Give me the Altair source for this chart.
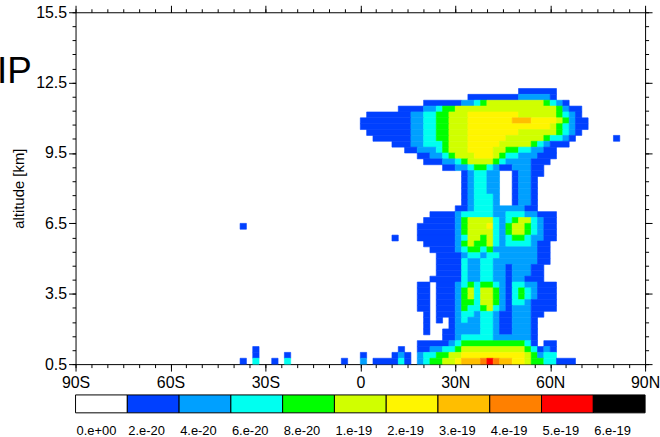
import altair as alt
import pandas as pd

# ---------------- colour levels (colour bar) ----------------
LEVEL_LABELS = ["0.e+00", "2.e-20", "4.e-20", "6.e-20", "8.e-20", "1.e-19",
                "2.e-19", "3.e-19", "4.e-19", "5.e-19", "6.e-19"]
LEVEL_COLORS = ["#FFFFFF", "#0040FF", "#00A0FF", "#00FFF0", "#00FF00", "#D0FF00",
                "#FFF500", "#FFBE00", "#FF8000", "#FF0000", "#000000"]

# ---------------- field grid ----------------
# column k covers latitude [LAT_START + k*LAT_STEP, LAT_START + (k+1)*LAT_STEP]
LAT_START = -40.0
LAT_STEP = 2.0
ALT_STEP = 0.25
# bottom altitude of each row (km)
ROW_ALTS = [12.0, 11.75, 11.5, 11.25, 11.0, 10.75, 10.5, 10.25, 10.0, 9.75,
            9.5, 9.25, 9.0, 8.75, 8.5, 8.25, 8.0, 7.75, 7.5, 7.25,
            7.0, 6.75, 6.5, 6.25, 6.0, 5.75, 5.5, 5.25, 5.0, 4.75,
            4.5, 4.25, 4.0, 3.75, 3.5, 3.25, 3.0, 2.75, 2.5, 2.25,
            2.0, 1.75, 1.5, 1.25, 1.0, 0.75, 0.5]
# "k:level" = from column k on, the level index (0 = blank)
ROW_RUNS = [
    "45:1 51:0",
    "37:1 45:2 50:1 51:0",
    "30:1 36:2 38:3 39:4 40:5 49:4 50:3 51:2 52:1 53:0",
    "26:1 30:2 32:3 33:4 35:5 51:4 52:2 53:1 55:0",
    "21:1 28:2 30:3 32:4 34:5 37:6 45:5 51:4 52:3 53:2 54:1 55:0",
    "20:1 28:2 30:3 32:4 34:5 37:6 44:7 47:6 51:5 52:4 53:2 54:1 56:0",
    "20:1 28:2 30:3 32:4 34:5 37:6 50:5 51:4 52:3 53:2 54:1 56:0",
    "21:1 28:2 30:3 32:4 34:5 37:6 45:5 51:4 52:3 53:2 54:1 55:0",
    "22:1 28:2 30:3 32:4 34:5 37:6 43:5 49:4 50:3 52:2 53:1 54:0 60:1 61:0",
    "25:1 28:2 30:3 33:4 34:5 37:6 42:5 47:4 48:3 49:2 50:1 53:0",
    "27:1 29:2 32:3 33:4 34:5 37:6 41:5 43:4 45:3 47:2 49:1 51:0",
    "29:1 31:2 33:3 34:4 35:5 38:6 41:5 42:4 43:3 45:2 48:1 51:0",
    "30:1 33:2 35:3 36:4 37:5 41:4 42:3 43:2 47:1 50:0",
    "33:1 35:2 37:3 38:4 40:3 41:2 42:1 44:2 47:1 49:0",
    "36:1 37:2 38:3 40:2 42:0 44:1 45:2 47:1 49:0",
    "36:1 37:2 38:3 40:2 42:0 44:1 45:2 47:1 48:0",
    "36:1 37:2 38:3 40:2 42:0 44:1 45:2 47:1 48:0",
    "36:1 37:2 38:3 40:2 42:0 44:1 45:2 47:1 48:0",
    "36:1 37:2 38:3 41:2 42:0 44:1 45:2 47:1 48:0",
    "36:1 37:2 38:3 41:2 42:0 44:1 45:2 47:1 48:0",
    "35:1 37:2 38:3 41:2 46:1 48:0",
    "31:1 35:2 36:3 41:2 43:3 46:2 48:1 51:0",
    "30:1 35:2 36:4 37:5 41:3 42:2 43:3 44:4 45:5 47:3 48:2 49:1 51:0",
    "1:1 2:0 29:1 35:2 36:4 37:5 40:6 41:3 42:2 43:4 44:5 46:4 47:3 48:2 49:1 51:0",
    "29:1 35:2 36:4 37:5 41:3 42:2 43:4 44:5 46:4 47:3 48:2 49:1 51:0",
    "25:1 26:0 29:1 35:2 36:3 37:5 39:4 40:5 41:3 42:2 43:3 44:4 46:3 47:2 49:1 51:0",
    "30:1 35:2 36:4 37:5 38:4 40:5 41:3 42:2 43:3 47:2 48:1 50:0",
    "31:1 35:2 36:3 37:4 39:3 40:4 41:2 48:1 50:0",
    "32:1 36:2 37:3 39:2 40:3 42:2 48:1 50:0",
    "32:1 36:3 37:2 39:3 41:2 48:1 50:0",
    "32:1 36:3 37:2 39:3 41:2 43:1 44:2 47:1 49:0",
    "32:1 36:3 37:2 39:3 41:2 43:1 44:2 47:1 49:0",
    "31:1 36:3 37:2 39:3 41:2 43:1 44:2 46:1 49:0",
    "29:1 31:0 32:1 35:2 36:3 37:4 38:3 39:4 41:3 42:2 43:1 44:3 46:2 48:1 51:0",
    "29:1 31:0 32:1 35:2 36:4 37:5 38:3 39:5 41:4 42:2 43:1 44:3 45:4 46:3 47:2 48:1 51:0",
    "29:1 31:0 32:1 35:2 36:4 37:5 38:3 39:5 41:4 42:2 43:1 44:3 45:4 46:3 47:2 48:1 51:0",
    "29:1 31:0 32:1 35:2 36:4 38:3 39:5 41:4 42:2 43:1 44:3 46:2 47:1 51:0",
    "29:1 31:0 32:1 35:2 36:4 37:3 39:4 40:5 41:3 42:2 43:1 44:2 47:1 51:0",
    "30:1 31:0 32:1 35:2 36:3 38:2 39:3 41:2 42:1 44:2 47:1 49:0",
    "30:1 31:0 32:1 33:0 34:1 35:2 36:3 37:2 39:3 41:2 42:1 44:2 47:1 48:0",
    "30:1 31:0 34:1 35:2 39:3 41:2 42:1 44:2 47:1 48:0",
    "30:1 31:0 33:1 35:2 39:3 41:2 42:1 44:2 47:1 48:0",
    "33:1 35:2 36:3 41:2 47:1 48:0",
    "29:1 34:2 35:3 36:4 46:3 47:1 48:0 49:1 51:0",
    "3:1 4:0 26:1 27:0 29:1 31:2 33:3 35:4 36:5 46:4 47:3 48:1 49:2 50:1 51:0",
    "3:1 4:0 8:1 9:0 20:1 21:0 25:1 26:2 27:1 28:0 29:2 30:3 32:4 34:5 36:6 46:5 47:4 48:2 49:3 51:0",
    "1:1 2:0 3:3 4:0 6:1 7:0 8:3 9:0 17:1 18:0 20:2 21:0 22:1 26:3 27:1 28:0 29:2 30:3 31:4 33:5 35:6 36:7 39:8 40:9 41:8 42:7 44:6 46:5 47:4 49:3 51:1 54:0",
]
assert len(ROW_ALTS) == len(ROW_RUNS)

# ---------------- axes ----------------
X_TICKS = [-90, -60, -30, 0, 30, 60, 90]
X_TICK_LABELS = ["90S", "60S", "30S", "0", "30N", "60N", "90N"]
X_MINOR = list(range(-90, 91, 5))
Y_TICKS = [0.5, 3.5, 6.5, 9.5, 12.5, 15.5]
Y_TICK_LABELS = ["0.5", "3.5", "6.5", "9.5", "12.5", "15.5"]
Y_MINOR = [round(0.5 + 0.6 * i, 2) for i in range(26)]
Y_TITLE = "altitude [km]"
CORNER_TEXT = "IP"

FONT = "Liberation Sans"

# ---------------- build table of runs ----------------
recs = []
for a0, runs in zip(ROW_ALTS, ROW_RUNS):
    pairs = [tuple(int(v) for v in p.split(":")) for p in runs.split()]
    for (k0, lev), (k1, _) in zip(pairs, pairs[1:]):
        if lev == 0:
            continue
        recs.append({
            "lat0": LAT_START + k0 * LAT_STEP,
            "lat1": LAT_START + k1 * LAT_STEP,
            "alt0": a0,
            "alt1": a0 + ALT_STEP,
            "level": LEVEL_LABELS[lev],
        })
cells = pd.DataFrame(recs)
frame = pd.DataFrame({"lat": [-90, 90], "alt": [0.5, 15.5]})


def label_expr(values, labels):
    e = "''"
    for v, l in reversed(list(zip(values, labels))):
        e = f"abs(datum.value - ({v})) < 0.001 ? '{l}' : ({e})"
    return e


xs = alt.Scale(domain=[-90, 90], nice=False, zero=False)
ys = alt.Scale(domain=[0.5, 15.5], nice=False, zero=False)
cscale = alt.Scale(domain=LEVEL_LABELS, range=LEVEL_COLORS)

MAJOR = 7
MINOR = 3.5

ax_common = dict(grid=False, tickColor="black", domainColor="black", tickWidth=1,
                 domainWidth=1, labelColor="black", labelFont=FONT, labelFontSize=16)

x_bottom = alt.Axis(orient="bottom", values=X_TICKS, tickSize=MAJOR, title=None,
                    labelExpr=label_expr(X_TICKS, X_TICK_LABELS), labelPadding=4,
                    labelOverlap=False, labelFlush=False, **ax_common)
y_left = alt.Axis(orient="left", values=Y_TICKS, tickSize=MAJOR, title=Y_TITLE,
                  labelExpr=label_expr(Y_TICKS, Y_TICK_LABELS), labelPadding=2,
                  labelOverlap=False, labelFlush=False, titleFont=FONT,
                  titleFontSize=15, titleFontWeight="normal", titleColor="black",
                  titlePadding=9, **ax_common)
x_bottom_minor = alt.Axis(orient="bottom", values=X_MINOR, tickSize=MINOR, title=None,
                          labels=False, domain=False, grid=False, tickColor="black")
y_left_minor = alt.Axis(orient="left", values=Y_MINOR, tickSize=MINOR, title=None,
                        labels=False, domain=False, grid=False, tickColor="black")
x_top = alt.Axis(orient="top", values=X_TICKS, tickSize=MAJOR, title=None,
                 labels=False, domain=True, grid=False, tickColor="black", domainColor="black")
y_right = alt.Axis(orient="right", values=Y_TICKS, tickSize=MAJOR, title=None,
                   labels=False, domain=True, grid=False, tickColor="black", domainColor="black")
x_top_minor = alt.Axis(orient="top", values=X_MINOR, tickSize=MINOR, title=None,
                       labels=False, domain=False, grid=False, tickColor="black")
y_right_minor = alt.Axis(orient="right", values=Y_MINOR, tickSize=MINOR, title=None,
                         labels=False, domain=False, grid=False, tickColor="black")

heat = alt.Chart(cells).mark_rect(strokeWidth=0.6).encode(
    x=alt.X("lat0:Q", scale=xs, axis=x_bottom),
    x2="lat1",
    y=alt.Y("alt0:Q", scale=ys, axis=y_left),
    y2="alt1",
    color=alt.Color("level:N", scale=cscale, legend=None),
    stroke=alt.Stroke("level:N", scale=cscale, legend=None),
)


def axis_layer(xa, ya):
    return alt.Chart(frame).mark_point(opacity=0).encode(
        x=alt.X("lat:Q", scale=xs, axis=xa),
        y=alt.Y("alt:Q", scale=ys, axis=ya),
    )


corner = alt.Chart(pd.DataFrame({"t": [CORNER_TEXT]})).mark_text(
    align="right", baseline="alphabetic", font=FONT, fontSize=37, color="black"
).encode(text="t:N", x=alt.value(-44), y=alt.value(71))

main = alt.layer(
    heat,
    axis_layer(x_bottom_minor, y_left_minor),
    axis_layer(x_top, y_right),
    axis_layer(x_top_minor, y_right_minor),
    corner,
).resolve_axis(x="independent", y="independent").properties(width=573, height=354)

cbar = alt.Chart(pd.DataFrame({"level": LEVEL_LABELS})).mark_rect(
    stroke="black", strokeWidth=1
).encode(
    x=alt.X("level:N", sort=LEVEL_LABELS,
            scale=alt.Scale(domain=LEVEL_LABELS, paddingInner=0, paddingOuter=0),
            axis=alt.Axis(title=None, orient="bottom", domain=False, ticks=False,
                          labelAngle=0, labelAlign="left",
                          labelPadding=12, labelFontSize=13, labelFont=FONT,
                          labelColor="black", labelOverlap=False, labelOffset=-25)),
    color=alt.Color("level:N", scale=cscale, legend=None),
).properties(width=573, height=18)

chart = alt.vconcat(main, cbar, spacing=3).configure_view(strokeWidth=0).properties(
    padding={"left": -3, "top": 3, "right": 0, "bottom": 0}
)

chart.save("out.html", embed_options={"renderer": "svg", "actions": False})
